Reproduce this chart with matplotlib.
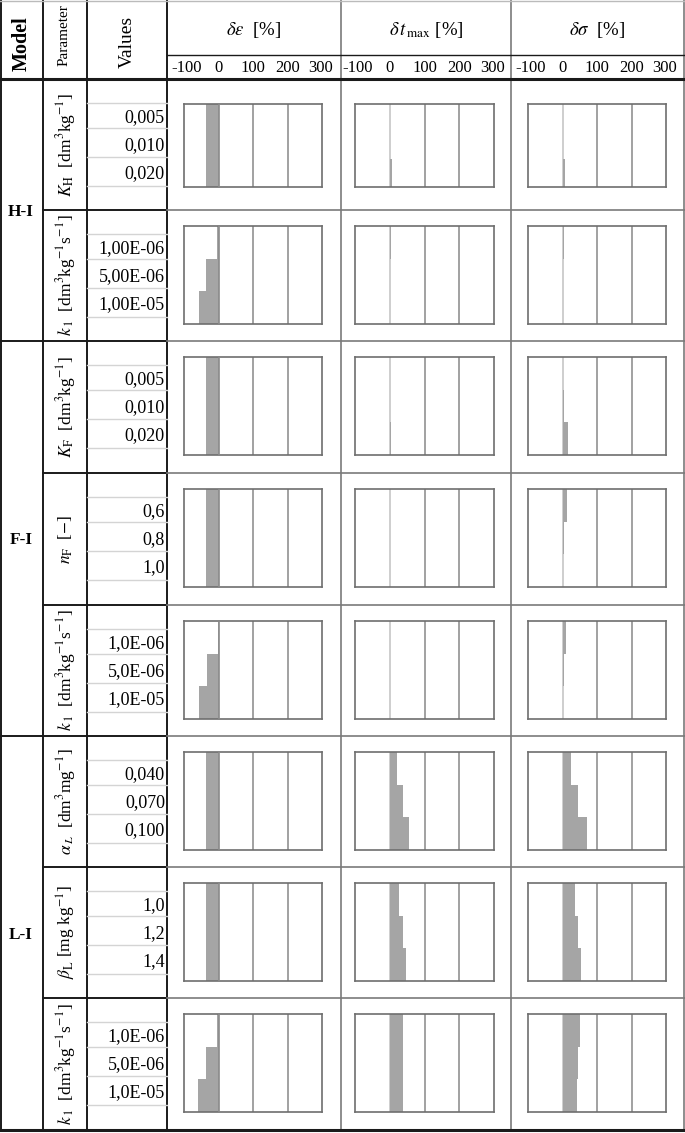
import matplotlib.pyplot as plt

plt.rcParams['font.family'] = ['Liberation Serif', 'DejaVu Serif']
plt.rcParams['mathtext.fontset'] = 'stix'

# --- data -------------------------------------------------------------
models = ['H-I', 'F-I', 'L-I']
model_rows = [[0, 1], [2, 3, 4], [5, 6, 7]]

params = [r'$K_{\rm H}$  [dm$^3$kg$^{-1}$]',
          r'$k_{\,1}$  [dm$^3$kg$^{-1}$s$^{-1}$]',
          r'$K_{\rm F}$  [dm$^3$kg$^{-1}$]',
          r'$n_{\rm F}$  [$-$]',
          r'$k_{\,1}$  [dm$^3$kg$^{-1}$s$^{-1}$]',
          r'$\alpha_{\,L}$  [dm$^3$mg$^{-1}$]',
          r'$\beta_{\rm L}$ [mg kg$^{-1}$]',
          r'$k_{\,1}$  [dm$^3$kg$^{-1}$s$^{-1}$]']

values = [['0,005', '0,010', '0,020'],
          ['1,00E-06', '5,00E-06', '1,00E-05'],
          ['0,005', '0,010', '0,020'],
          ['0,6', '0,8', '1,0'],
          ['1,0E-06', '5,0E-06', '1,0E-05'],
          ['0,040', '0,070', '0,100'],
          ['1,0', '1,2', '1,4'],
          ['1,0E-06', '5,0E-06', '1,0E-05']]

col_titles = [r'$\delta\varepsilon$  [%]', r'$\delta\, t_{\rm\, max}$ [%]', r'$\delta\sigma$  [%]']
tick_vals = [-100, 0, 100, 200, 300]

d_eps = [[-36, -36, -36], [-3, -36, -57], [-36, -36, -36], [-36, -36, -36],
         [-2, -33, -57], [-36, -36, -36], [-36, -36, -36], [-3, -36, -60]]
d_tmax = [[0, 0, 6], [4, 0, 0], [0, 0, 4], [0, 0, 0],
          [0, 0, 0], [22, 39, 54], [28, 39, 46], [39, 37, 37]]
d_sigma = [[0, 0, 6], [4, 0, 0], [0, 5, 15], [12, 4, 0],
           [9, 3, 0], [25, 46, 70], [37, 44, 55], [51, 46, 42]]
data = [d_eps, d_tmax, d_sigma]

# --- layout (pixels) ----------------------------------------------------
W, H = 685, 1133
row_y = [79, 210, 341, 473, 605, 736, 867, 998, 1130]
col_x = [167, 341, 511, 684]
box_x = [(184, 322), (355, 494), (528, 666)]

fig = plt.figure(figsize=(6.85, 11.33), dpi=100)
ax = fig.add_axes([0, 0, 1, 1])
ax.set_xlim(0, W)
ax.set_ylim(H, 0)
ax.axis('off')

dark = '#1a1a1a'
grey = '#7a7a7a'

# table lines
for x in [1.5, 43, 87, 167]:
    ax.plot([x, x], [0, 1131], color=dark, lw=1.4)
for x in [341, 511, 684]:
    ax.plot([x, x], [0, 1131], color=grey, lw=1.2)
ax.plot([0, W], [0.5, 0.5], color='#bbbbbb', lw=1)
ax.plot([167, W], [55, 55], color=dark, lw=1)
ax.plot([0, W], [79, 79], color=dark, lw=2.2)
ax.plot([0, W], [1130, 1130], color=dark, lw=2.2)
for i, y in enumerate(row_y[1:-1], start=1):
    if y in (341, 736):
        ax.plot([0, 167], [y, y], color=dark, lw=1.4)
    else:
        ax.plot([43, 167], [y, y], color=dark, lw=1.4)
    ax.plot([167, W], [y, y], color=grey, lw=1.2)

# header
ax.text(22, 44, 'Model', rotation=90, ha='center', va='center',
        fontsize=14.5, fontweight='bold')
ax.text(64, 35, 'Parameter', rotation=90, ha='center', va='center', fontsize=11)
ax.text(127, 42, 'Values', rotation=90, ha='center', va='center', fontsize=14)
for c in range(3):
    ax.text((col_x[c] + col_x[c + 1]) / 2, 30, col_titles[c], ha='center',
            va='center', fontsize=13.5)
    x0, x1 = box_x[c]
    for k, t in enumerate(tick_vals):
        xt = x0 + k * (x1 - x0) / 4
        if k == 0:
            xt += 3
        if k == 4:
            xt -= 1
        ax.text(xt, 68, str(t), ha='center', va='center', fontsize=12)

# model names
for m, rows in zip(models, model_rows):
    yc = (row_y[rows[0]] + row_y[rows[-1] + 1]) / 2
    ax.text(21, yc + 2, m, ha='center', va='center', fontsize=12.5,
            fontweight='bold')

# parameter and value cells
for r in range(8):
    top = row_y[r]
    ax.text(66, (top + row_y[r + 1]) / 2, params[r], rotation=90,
            ha='center', va='center', fontsize=12.5)
    for dy in [24, 49, 78, 107]:
        ax.plot([87, 167], [top + dy, top + dy], color='#d4d4d4', lw=1)
    for v, dy in zip(values[r], [39, 67, 95]):
        ax.text(165, top + dy, v, ha='right', va='center', fontsize=13)

# small bar charts
for r in range(8):
    top = row_y[r]
    if r == 0:
        y0, y1 = top + 25, top + 108
    else:
        y0, y1 = top + 16, top + 114
    for c in range(3):
        x0, x1 = box_x[c]
        bax = fig.add_axes([x0 / W, 1 - y1 / H, (x1 - x0) / W, (y1 - y0) / H])
        bax.barh([0, 1, 2], data[c][r], height=1.0, color='#a5a5a5', zorder=2)
        bax.set_xlim(-100, 300)
        bax.set_ylim(2.5, -0.5)
        zero_col = '#8a8a8a' if c == 0 else '#c6c6c6'
        bax.axvline(0, color=zero_col, lw=1.2, zorder=3 if c == 0 else 1)
        for g in [100, 200]:
            bax.axvline(g, color='#9a9a9a', lw=1.3, zorder=1)
        bax.set_xticks([])
        bax.set_yticks([])
        for s in bax.spines.values():
            s.set_color('#6e6e6e')
            s.set_linewidth(1.2)

plt.savefig('out.png', dpi=100)
